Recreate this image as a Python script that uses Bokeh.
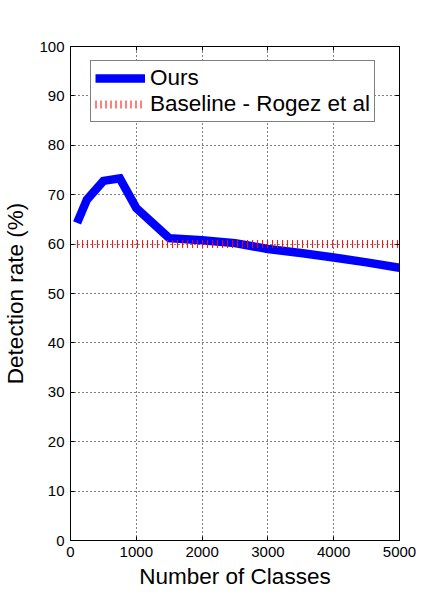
from bokeh.plotting import figure
from bokeh.models import Range1d, LinearAxis, FixedTicker, Legend, LegendItem, CustomJSTickFormatter
from bokeh.embed import file_html
from bokeh.resources import INLINE

# ---- data ----
classes = [100, 250, 500, 750, 1000, 1500, 2000, 2500, 3000, 3500, 4000, 4500, 5000]
ours = [64.3, 69.0, 72.8, 73.3, 67.3, 61.2, 60.8, 60.2, 59.0, 58.2, 57.3, 56.3, 55.2]
baseline_value = 60.0
x_ticks = [0, 1000, 2000, 3000, 4000, 5000]
y_ticks = [0, 10, 20, 30, 40, 50, 60, 70, 80, 90, 100]

FONT = "Liberation Sans"

p = figure(width=441, height=607, output_backend="svg", toolbar_location=None,
           x_range=Range1d(0, 5000), y_range=Range1d(0, 100),
           min_border_left=69, min_border_right=42, min_border_top=46, min_border_bottom=67)
p.background_fill_color = "white"
p.border_fill_color = "white"
p.outline_line_color = "black"
p.outline_line_width = 1

ours_r = p.line(classes, ours, line_color="#0000FF", line_width=8.5, line_join="miter")
base_r = p.line([classes[0], classes[-1]], [baseline_value, baseline_value],
                line_color="#FF0000", line_width=8, line_dash="1 4", line_cap="butt")

for ax in (p.xaxis[0], p.yaxis[0]):
    ax.axis_line_color = "black"
    ax.major_tick_in = 4
    ax.major_tick_out = 0
    ax.minor_tick_line_color = None
    ax.major_label_text_font = FONT
    ax.major_label_text_font_size = "15px"
    ax.major_label_text_color = "black"
    ax.axis_label_text_font = FONT
    ax.axis_label_text_font_size = "22.5px"
    ax.axis_label_text_font_style = "normal"
    ax.axis_label_text_color = "black"

p.xaxis[0].ticker = FixedTicker(ticks=x_ticks)
p.yaxis[0].ticker = FixedTicker(ticks=y_ticks)
p.xaxis[0].axis_label = "Number of Classes"
p.yaxis[0].axis_label = "Detection rate (%)"
p.xaxis[0].major_label_standoff = 6
p.yaxis[0].major_label_standoff = 6
p.xaxis[0].axis_label_standoff = 4
p.yaxis[0].axis_label_standoff = 8

# box ticks on top and right (no labels)
for loc, ticks in (("right", y_ticks), ("above", x_ticks)):
    a = LinearAxis(ticker=FixedTicker(ticks=ticks),
                   formatter=CustomJSTickFormatter(code="return ''"))
    a.major_tick_in = 4
    a.major_tick_out = 0
    a.minor_tick_line_color = None
    a.major_label_standoff = 0
    a.major_label_text_font_size = "1px"
    a.axis_line_color = "black"
    p.add_layout(a, loc)

p.xgrid.ticker = FixedTicker(ticks=x_ticks)
p.ygrid.ticker = FixedTicker(ticks=y_ticks)
for g in (p.xgrid[0], p.ygrid[0]):
    g.grid_line_color = "black"
    g.grid_line_dash = "1 3"
    g.grid_line_width = 1
    g.grid_line_alpha = 1.0

legend = Legend(items=[LegendItem(label="Ours", renderers=[ours_r]),
                       LegendItem(label="Baseline - Rogez et al", renderers=[base_r])],
                location=(20, 418))
legend.label_text_font = FONT
legend.label_text_font_size = "22.5px"
legend.label_text_color = "black"
legend.border_line_color = "black"
legend.border_line_width = 1
legend.background_fill_color = "white"
legend.background_fill_alpha = 1.0
legend.glyph_width = 50
legend.glyph_height = 20
legend.label_height = 20
legend.label_standoff = 5
legend.padding = 4
legend.spacing = 0
legend.margin = 0
p.add_layout(legend, "center")

open("out.html", "w").write(file_html(p, INLINE))
